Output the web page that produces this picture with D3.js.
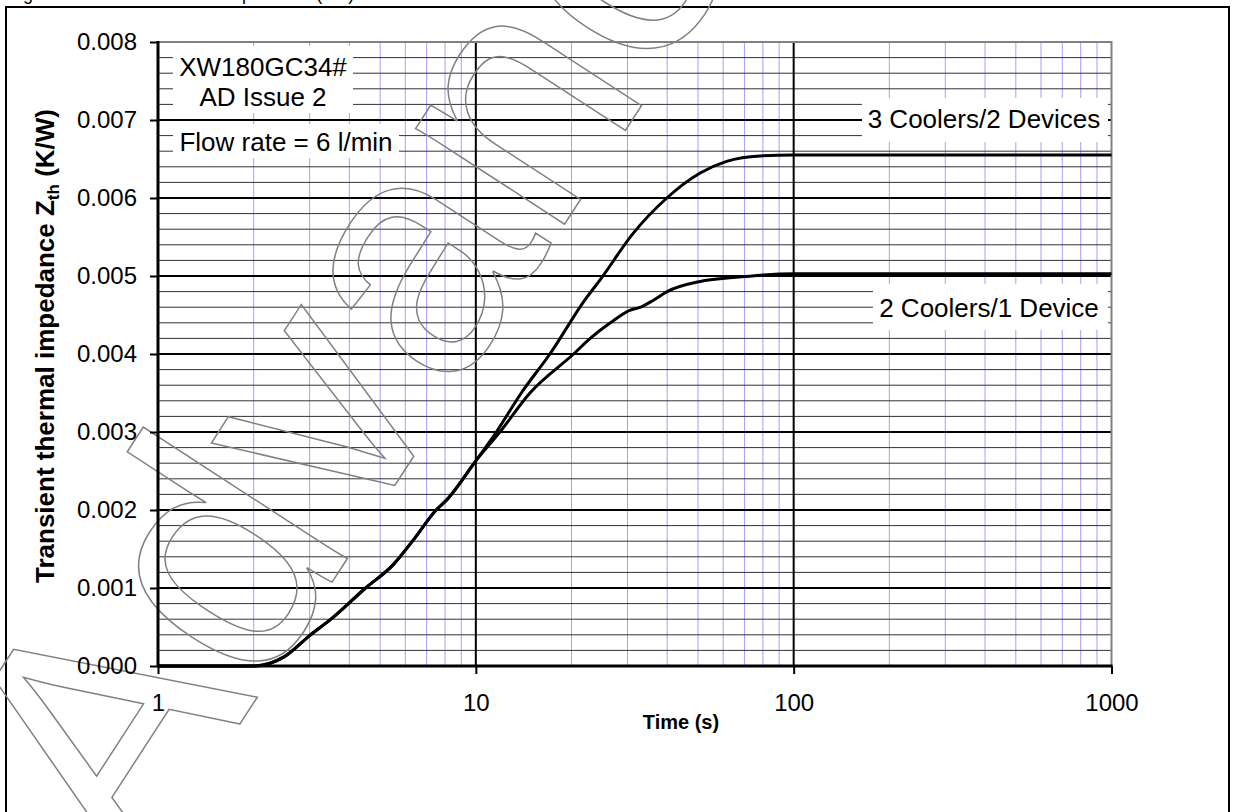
<!DOCTYPE html>
<html>
<head>
<meta charset="utf-8">
<script src="https://cdnjs.cloudflare.com/ajax/libs/d3/7.8.5/d3.min.js"></script>
<style>
  body { margin: 0; background: #fff; }
  svg { display: block; font-family: Arial, "Liberation Sans", sans-serif; }
</style>
</head>
<body>
<div class="diagram"></div>
<script>
// tick values
var xTicks = [1, 10, 100, 1000];
var yTicks = [0, 0.001, 0.002, 0.003, 0.004, 0.005, 0.006, 0.007, 0.008];

// 3 Coolers/2 Devices (upper curve)
var time3 = [1, 2, 2.5, 3, 3.5, 4.5, 5.5, 6.4, 7.5, 8.1, 10, 11.6, 13.9, 17.1, 22.1, 24.6, 31.3, 39.9, 50.8, 61.5, 78.4, 100, 200, 500, 1000];
var zth3  = [0, 0, 0.00012, 0.00039, 0.0006, 0.001, 0.0013, 0.00163, 0.002, 0.00213, 0.00263, 0.003, 0.0035, 0.004, 0.0047, 0.00495, 0.00555, 0.006, 0.00632, 0.00647, 0.00654, 0.00655, 0.00655, 0.00655, 0.00655];

// 2 Coolers/1 Device (lower curve)
var time2 = [1, 2, 2.5, 3, 3.5, 4.5, 5.5, 6.4, 7.5, 8.1, 10, 11.9, 14.8, 20.3, 22.9, 26.5, 30.5, 33, 36.2, 40, 50.8, 64.6, 100, 300, 1000];
var zth2  = [0, 0, 0.00012, 0.00039, 0.0006, 0.001, 0.0013, 0.00163, 0.002, 0.00213, 0.00263, 0.003, 0.0035, 0.004, 0.0042, 0.0044, 0.00456, 0.0046, 0.00469, 0.0048, 0.00493, 0.00498, 0.00503, 0.00503, 0.00503];

var series = [
  {id: '3 Coolers/2 Devices', t: time3, z: zth3},
  {id: '2 Coolers/1 Device', t: time2, z: zth2}
];

var width = 1234, height = 812;

var svg = d3.select('.diagram')
  .append('svg')
  .attr('width', width)
  .attr('height', height);

var x = d3.scaleLog().domain([1, 1000]).range([158, 1111.5]),
    y = d3.scaleLinear().domain([0, 0.008]).range([666, 42]);

// caption above the frame, mostly cut off by the page edge
svg.append('text')
  .attr('x', 8).attr('y', 0)
  .attr('font-size', 18)
  .text('Figure 5 Transient thermal impedance (Zth)');

// outer frame
svg.append('rect')
  .attr('x', 6).attr('y', 7)
  .attr('width', 1223).attr('height', 830)
  .attr('fill', 'none')
  .attr('stroke', '#000')
  .attr('stroke-width', 2);

var grid = svg.append('g').attr('class', 'grid');

// vertical minor grid (light blue)
grid.selectAll('.vminor')
  .data(x.ticks().filter(function(d) { return xTicks.indexOf(d) < 0; }))
  .enter().append('line')
  .attr('class', 'vminor')
  .attr('x1', function(d) { return x(d); })
  .attr('x2', function(d) { return x(d); })
  .attr('y1', y(0.008)).attr('y2', y(0))
  .attr('stroke', '#a0a0ff')
  .attr('stroke-width', 1);

// horizontal minor grid every 0.0002
grid.selectAll('.hminor')
  .data(d3.range(1, 40).map(function(i) { return i * 0.0002; }))
  .enter().append('line')
  .attr('class', 'hminor')
  .attr('x1', x(1)).attr('x2', x(1000))
  .attr('y1', function(d) { return y(d); })
  .attr('y2', function(d) { return y(d); })
  .attr('stroke', '#333')
  .attr('stroke-width', 1);

// major grid
grid.selectAll('.hmajor')
  .data(yTicks.slice(1, -1))
  .enter().append('line')
  .attr('x1', x(1)).attr('x2', x(1000))
  .attr('y1', function(d) { return y(d); })
  .attr('y2', function(d) { return y(d); })
  .attr('stroke', '#000')
  .attr('stroke-width', 2);

grid.selectAll('.vmajor')
  .data(xTicks.slice(1, -1))
  .enter().append('line')
  .attr('x1', function(d) { return x(d); })
  .attr('x2', function(d) { return x(d); })
  .attr('y1', y(0.008)).attr('y2', y(0))
  .attr('stroke', '#000')
  .attr('stroke-width', 2);

// plot area border
svg.append('rect')
  .attr('x', x(1)).attr('y', y(0.008))
  .attr('width', x(1000) - x(1)).attr('height', y(0) - y(0.008))
  .attr('fill', 'none')
  .attr('stroke', '#808080')
  .attr('stroke-width', 2);

// watermark
svg.append('text')
  .attr('transform', 'translate(136,884) rotate(-57)')
  .attr('font-size', 335)
  .attr('fill', 'none')
  .attr('stroke', '#808080')
  .attr('stroke-width', 1.5)
  .text('Advance');

// curves
var line = d3.line()
  .curve(d3.curveMonotoneX)
  .x(function(d) { return x(d[0]); })
  .y(function(d) { return y(d[1]); });

svg.selectAll('.curve')
  .data(series)
  .enter().append('path')
  .attr('class', 'curve')
  .attr('fill', 'none')
  .attr('stroke', '#000')
  .attr('stroke-width', 3)
  .attr('d', function(s) { return line(s.t.map(function(t, i) { return [t, s.z[i]]; })); });

// text boxes
var boxes = [
  {x: 173, y: 46, w: 180, h: 67, lines: ['XW180GC34#', 'AD Issue 2'], cx: 263, by: [76, 106]},
  {x: 173, y: 124, w: 226, h: 34, lines: ['Flow rate = 6 l/min'], cx: 286, by: [151]},
  {x: 862, y: 98, w: 246, h: 44, lines: ['3 Coolers/2 Devices'], cx: 984, by: [128]},
  {x: 873, y: 284, w: 235, h: 46, lines: ['2 Coolers/1 Device'], cx: 989, by: [317]}
];

boxes.forEach(function(b) {
  svg.append('rect')
    .attr('x', b.x).attr('y', b.y)
    .attr('width', b.w).attr('height', b.h)
    .attr('fill', '#fff');
  b.lines.forEach(function(t, i) {
    svg.append('text')
      .attr('x', b.cx).attr('y', b.by[i])
      .attr('text-anchor', 'middle')
      .attr('font-size', 26)
      .text(t);
  });
});

// axes
svg.append('g')
  .attr('class', 'axis axis--y')
  .attr('transform', 'translate(' + x(1) + ',0)')
  .call(d3.axisLeft(y).tickValues(yTicks).tickFormat(d3.format('.3f')).tickSize(8).tickPadding(13));

svg.append('g')
  .attr('class', 'axis axis--x')
  .attr('transform', 'translate(0,' + y(0) + ')')
  .call(d3.axisBottom(x).tickValues(xTicks).tickFormat(d3.format('d')).tickSize(8).tickPadding(20));

svg.selectAll('.axis path').remove();
svg.selectAll('.axis line').attr('stroke', '#000').attr('stroke-width', 2);
svg.selectAll('.axis text').attr('font-size', 24).attr('font-family', 'Arial, "Liberation Sans", sans-serif').attr('fill', '#000');

svg.append('line')
  .attr('x1', x(1)).attr('x2', x(1))
  .attr('y1', y(0.008) - 1).attr('y2', y(0) + 1)
  .attr('stroke', '#000').attr('stroke-width', 3);
svg.append('line')
  .attr('x1', x(1) - 1).attr('x2', x(1000) + 1)
  .attr('y1', y(0)).attr('y2', y(0))
  .attr('stroke', '#000').attr('stroke-width', 3);

// axis titles
svg.append('text')
  .attr('x', 681).attr('y', 729)
  .attr('text-anchor', 'middle')
  .attr('font-size', 20)
  .attr('font-weight', 'bold')
  .text('Time (s)');

var yl = svg.append('text')
  .attr('transform', 'translate(54,346) rotate(-90)')
  .attr('text-anchor', 'middle')
  .attr('font-size', 26)
  .attr('font-weight', 'bold');
yl.append('tspan').text('Transient thermal impedance Z');
yl.append('tspan').attr('font-size', 17).attr('dy', 5).text('th');
yl.append('tspan').attr('dy', -5).text(' (K/W)');
</script>
</body>
</html>
